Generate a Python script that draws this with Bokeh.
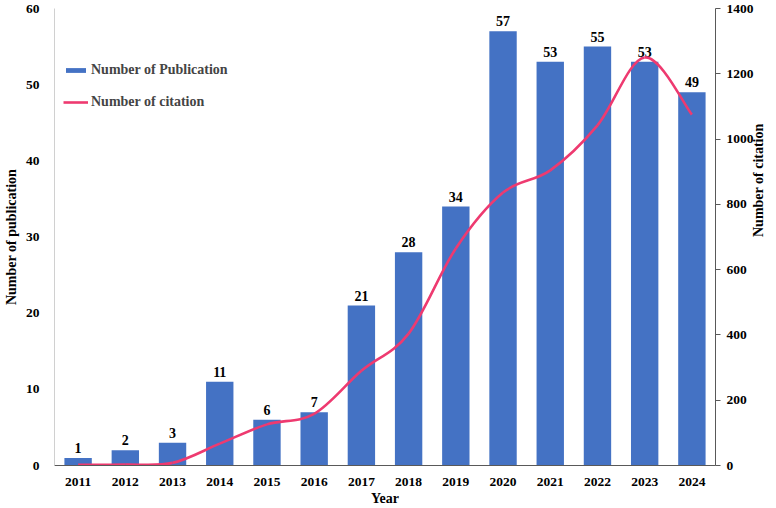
import math
from bokeh.plotting import figure
from bokeh.models import (ColumnDataSource, Range1d, LinearAxis, FixedTicker,
                          Legend, LegendItem)
from bokeh.core.properties import value
from bokeh.embed import file_html
from bokeh.resources import INLINE

# Yearly publication and citation counts
years = [2011, 2012, 2013, 2014, 2015, 2016, 2017, 2018, 2019, 2020, 2021, 2022, 2023, 2024]
publications = [1, 2, 3, 11, 6, 7, 21, 28, 34, 57, 53, 55, 53, 49]
citations = [2, 3, 8, 67, 126, 158, 290, 404, 665, 836, 904, 1042, 1250, 1075]

left_ticks = [0, 10, 20, 30, 40, 50, 60]
right_ticks = [0, 200, 400, 600, 800, 1000, 1200, 1400]

FONT = "Liberation Serif"
BAR_COLOR = "#4472C4"
LINE_COLOR = "#EE3A70"
AXIS_DARK = "#595959"

p = figure(width=776, height=508, output_backend="svg", toolbar_location=None,
           x_range=Range1d(2010.5, 2024.5), y_range=Range1d(0, 60),
           min_border_left=44, min_border_right=57, min_border_top=8,
           min_border_bottom=43)
p.outline_line_color = None
p.xgrid.grid_line_color = None
p.ygrid.grid_line_color = None
p.background_fill_color = "white"
p.border_fill_color = "white"

p.extra_y_ranges = {"cite": Range1d(0, 1400)}

# Bars: publications
src = ColumnDataSource(dict(x=years, top=publications, lab=[str(v) for v in publications]))
bars = p.vbar(x="x", top="top", width=0.58, source=src, fill_color=BAR_COLOR,
              line_color=None)
p.text(x="x", y="top", text="lab", source=src, text_align="center",
       text_baseline="bottom", y_offset=-5, text_font=value(FONT),
       text_font_style="bold", text_font_size="14px", text_color="black")

# Smoothed citation curve (cubic Bezier segments through each yearly point)
n = len(years)
x0, y0, x1, y1, cx0, cy0, cx1, cy1 = [], [], [], [], [], [], [], []
for i in range(n - 1):
    pa = (years[max(i - 1, 0)], citations[max(i - 1, 0)])
    pb = (years[i], citations[i])
    pc = (years[i + 1], citations[i + 1])
    pd = (years[min(i + 2, n - 1)], citations[min(i + 2, n - 1)])
    x0.append(pb[0]); y0.append(pb[1])
    x1.append(pc[0]); y1.append(pc[1])
    cx0.append(pb[0] + (pc[0] - pa[0]) / 6); cy0.append(pb[1] + (pc[1] - pa[1]) / 6)
    cx1.append(pc[0] - (pd[0] - pb[0]) / 6); cy1.append(pc[1] - (pd[1] - pb[1]) / 6)
bsrc = ColumnDataSource(dict(x0=x0, y0=y0, x1=x1, y1=y1, cx0=cx0, cy0=cy0, cx1=cx1, cy1=cy1))
curve = p.bezier(x0="x0", y0="y0", x1="x1", y1="y1", cx0="cx0", cy0="cy0",
                 cx1="cx1", cy1="cy1", source=bsrc, y_range_name="cite",
                 line_color=LINE_COLOR, line_width=2.6)

# Axes
xa = p.xaxis[0]
xa.ticker = FixedTicker(ticks=years)
xa.axis_label = "Year"
xa.axis_line_color = AXIS_DARK
xa.major_tick_line_color = None
xa.minor_tick_line_color = None
xa.major_label_standoff = 6
xa.axis_label_standoff = 2

ya = p.yaxis[0]
ya.ticker = FixedTicker(ticks=left_ticks)
ya.axis_label = "Number of publication"
ya.axis_line_color = "#D0D0D0"
ya.major_tick_line_color = None
ya.minor_tick_line_color = None
ya.major_label_standoff = 9
ya.axis_label_standoff = 4

ra = LinearAxis(y_range_name="cite", ticker=FixedTicker(ticks=right_ticks),
                axis_label="Number of citation")
ra.axis_line_color = AXIS_DARK
ra.major_tick_line_color = AXIS_DARK
ra.major_tick_out = 5
ra.major_tick_in = 0
ra.minor_tick_line_color = None
ra.major_label_standoff = 6
ra.axis_label_standoff = 2
ra.axis_label_orientation = -3 * math.pi / 2
p.add_layout(ra, "right")

for ax in (xa, ya, ra):
    ax.major_label_text_font = FONT
    ax.major_label_text_font_style = "bold"
    ax.major_label_text_font_size = "13.5px"
    ax.major_label_text_color = "black"
    ax.axis_label_text_font = FONT
    ax.axis_label_text_font_style = "bold"
    ax.axis_label_text_font_size = "14px"
    ax.axis_label_text_color = "black"

legend = Legend(items=[LegendItem(label="Number of Publication", renderers=[bars]),
                       LegendItem(label="Number of citation", renderers=[curve])],
                location=(9, 355), border_line_color=None, background_fill_alpha=0,
                glyph_width=25, glyph_height=6, label_standoff=3, spacing=16,
                padding=0, margin=0, label_text_font=FONT,
                label_text_font_style="bold", label_text_font_size="14px")
p.add_layout(legend)

open("out.html", "w").write(file_html(p, INLINE))
